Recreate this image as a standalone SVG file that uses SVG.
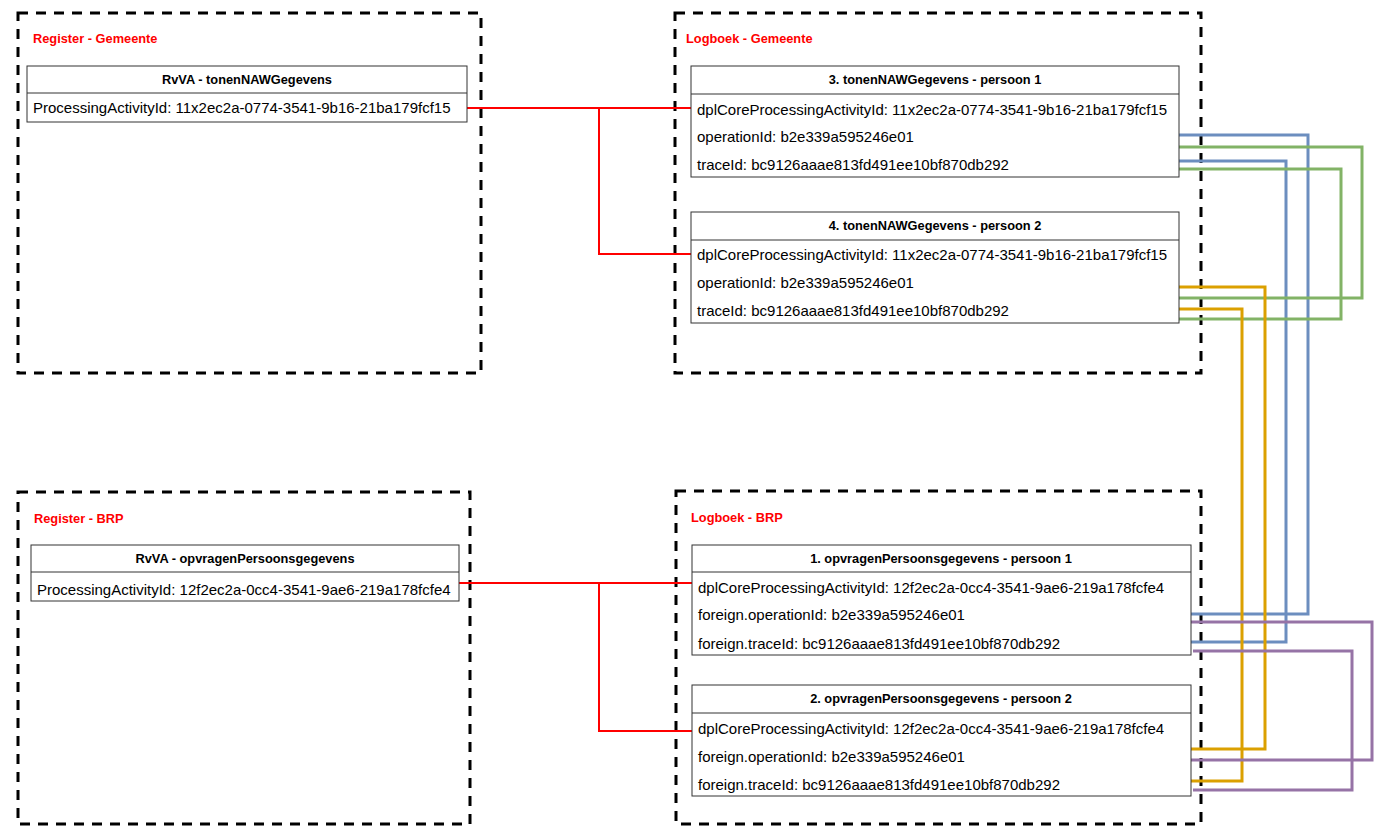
<svg xmlns="http://www.w3.org/2000/svg" width="1386" height="837" viewBox="0 0 1386 837">
<style>
.cont{fill:none;stroke:#000;stroke-width:3;stroke-dasharray:10 8}
.lbl{font-family:"Liberation Sans",Arial,sans-serif;font-size:12.8px;font-weight:bold;fill:#ff0000}
.box{fill:#fff;stroke:#333;stroke-width:1}
.hd{font-family:"Liberation Sans",Arial,sans-serif;font-size:12.8px;font-weight:bold;fill:#000;text-anchor:middle}
.tx{font-family:"Liberation Sans",Arial,sans-serif;font-size:15px;fill:#000}
.red{fill:none;stroke:#ff0000;stroke-width:2}
.c{fill:none;stroke-width:3}
.blue{stroke:#6c8ebf}.green{stroke:#82b366}.orange{stroke:#dba000}.purple{stroke:#9673a6}
</style>
<rect width="1386" height="837" fill="#fff"/>
<g id="register-gemeente">
<rect class="cont" x="18" y="13" width="463" height="360"/>
<text class="lbl" x="33" y="43">Register - Gemeente</text>
</g>
<g id="logboek-gemeente">
<rect class="cont" x="675" y="13" width="526" height="360"/>
<text class="lbl" x="686" y="43">Logboek - Gemeente</text>
</g>
<g id="register-brp">
<rect class="cont" x="18" y="492" width="452" height="332"/>
<text class="lbl" x="34" y="523">Register - BRP</text>
</g>
<g id="logboek-brp">
<rect class="cont" x="676" y="491" width="525" height="333"/>
<text class="lbl" x="691" y="522">Logboek - BRP</text>
</g>
<g id="connectors">
<path class="red" d="M467,108 H691 M599,108 V254 H691"/>
<path class="red" d="M459,583 H692 M599,583 V731 H692"/>
<path class="c blue" d="M1179,135 H1308 V614 H1191"/>
<path class="c blue" d="M1179,161 H1286 V642 H1191"/>
<path class="c green" d="M1179,147 H1362 V298 H1179"/>
<path class="c green" d="M1179,169 H1341 V319 H1179"/>
<path class="c orange" d="M1179,287 H1265 V749 H1190"/>
<path class="c orange" d="M1178,309 H1242 V781 H1189"/>
<path class="c purple" d="M1190,622 H1372 V760 H1190"/>
<path class="c purple" d="M1193,651 H1352 V790 H1193"/>
</g>
<g id="rvva-toonen">
<rect class="box" x="27" y="66" width="440" height="56"/>
<line class="box" x1="27" y1="93" x2="467" y2="93"/>
<text class="hd" x="247" y="84">RvVA - tonenNAWGegevens</text>
<text class="tx" x="33" y="113">ProcessingActivityId: 11x2ec2a-0774-3541-9b16-21ba179fcf15</text>
</g>
<g id="log3">
<rect class="box" x="691" y="66" width="488" height="111"/>
<line class="box" x1="691" y1="94" x2="1179" y2="94"/>
<text class="hd" x="935" y="84">3. tonenNAWGegevens - persoon 1</text>
<text class="tx" x="697" y="115">dplCoreProcessingActivityId: 11x2ec2a-0774-3541-9b16-21ba179fcf15</text>
<text class="tx" x="697" y="142">operationId: b2e339a595246e01</text>
<text class="tx" x="697" y="170">traceId: bc9126aaae813fd491ee10bf870db292</text>
</g>
<g id="log4">
<rect class="box" x="691" y="212" width="488" height="111"/>
<line class="box" x1="691" y1="240" x2="1179" y2="240"/>
<text class="hd" x="935" y="230">4. tonenNAWGegevens - persoon 2</text>
<text class="tx" x="697" y="260">dplCoreProcessingActivityId: 11x2ec2a-0774-3541-9b16-21ba179fcf15</text>
<text class="tx" x="697" y="288">operationId: b2e339a595246e01</text>
<text class="tx" x="697" y="316">traceId: bc9126aaae813fd491ee10bf870db292</text>
</g>
<g id="rvva-opvragen">
<rect class="box" x="31" y="545" width="428" height="56"/>
<line class="box" x1="31" y1="572" x2="459" y2="572"/>
<text class="hd" x="245" y="563">RvVA - opvragenPersoonsgegevens</text>
<text class="tx" x="37" y="595">ProcessingActivityId: 12f2ec2a-0cc4-3541-9ae6-219a178fcfe4</text>
</g>
<g id="log1">
<rect class="box" x="692" y="545" width="499" height="110"/>
<line class="box" x1="692" y1="572" x2="1191" y2="572"/>
<text class="hd" x="941" y="563">1. opvragenPersoonsgegevens - persoon 1</text>
<text class="tx" x="698" y="593">dplCoreProcessingActivityId: 12f2ec2a-0cc4-3541-9ae6-219a178fcfe4</text>
<text class="tx" x="698" y="620">foreign.operationId: b2e339a595246e01</text>
<text class="tx" x="698" y="649">foreign.traceId: bc9126aaae813fd491ee10bf870db292</text>
</g>
<g id="log2">
<rect class="box" x="692" y="685" width="499" height="111"/>
<line class="box" x1="692" y1="713" x2="1191" y2="713"/>
<text class="hd" x="941" y="703">2. opvragenPersoonsgegevens - persoon 2</text>
<text class="tx" x="698" y="734">dplCoreProcessingActivityId: 12f2ec2a-0cc4-3541-9ae6-219a178fcfe4</text>
<text class="tx" x="698" y="762">foreign.operationId: b2e339a595246e01</text>
<text class="tx" x="698" y="790">foreign.traceId: bc9126aaae813fd491ee10bf870db292</text>
</g>
</svg>
